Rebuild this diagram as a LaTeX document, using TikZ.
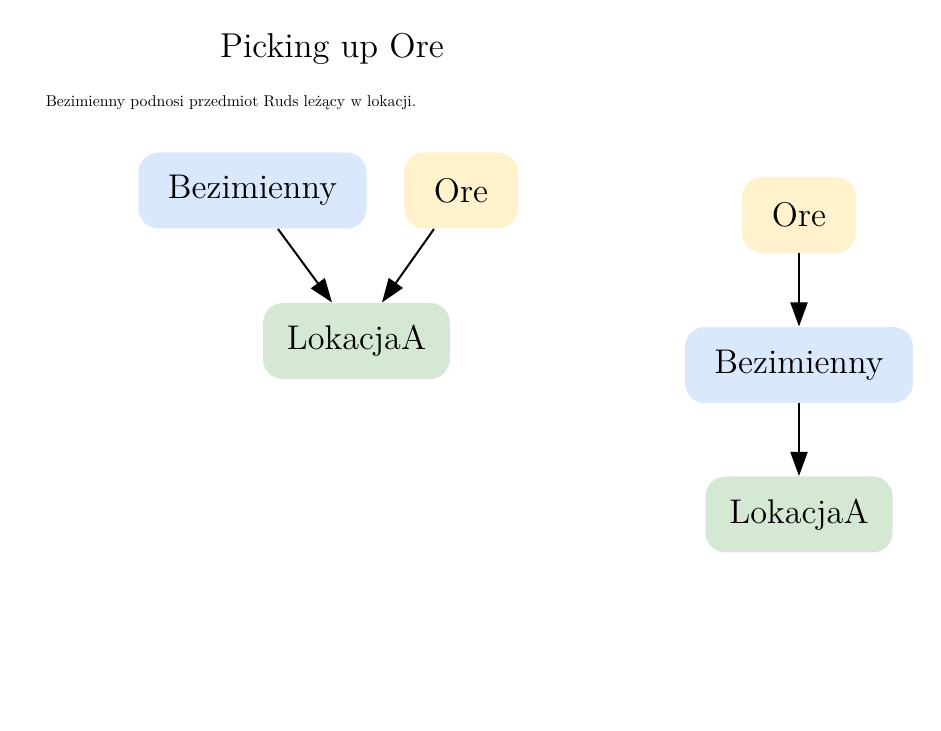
\documentclass[tikz,border=0pt]{standalone}
\usepackage{tikz}
\usetikzlibrary{arrows.meta,calc}
\definecolor{actorblue}{HTML}{DAE8FC}
\definecolor{itemyellow}{HTML}{FFF2CC}
\definecolor{placegreen}{HTML}{D5E8D4}
\tikzset{
  entity/.style={rounded corners=8pt, inner sep=0pt, minimum height=30.4pt, font=\fontsize{13.7}{16}\selectfont},
  link/.style={-{Triangle[length=9.6pt,width=6.8pt]}, line width=0.8pt}
}

\begin{document}
\begin{tikzpicture}[x=0.4pt,y=-0.4pt]
\useasboundingbox (0,0) rectangle (941,731);

% Title and description
\node (title) at (332,49) {\fontsize{13.8}{16}\selectfont Picking up Ore};
\node[scale=0.63, transform shape] (subtitle) at (231,103) {\fontsize{10}{12}\selectfont Bezimienny podnosi przedmiot Ruds leżący w lokacji.};

% Before: Bezimienny and Ore both in LokacjaA
\node[entity, fill=actorblue, minimum width=91.2pt] (bez1) at (252.5,190.5) {Bezimienny};
\node[entity, fill=itemyellow, minimum width=45.6pt] (ore1) at (461,190.5) {Ore};
\node[entity, fill=placegreen, minimum width=74.8pt] (lok1) at (356.5,341) {LokacjaA};
\draw[link] ($(bez1.south)+(25.5,0)$) -- ($(lok1.north)+(-24.5,0)$);
\draw[link] ($(ore1.south)+(-27,0)$) -- ($(lok1.north)+(25.5,0)$);

% After: Ore carried by Bezimienny
\node[entity, fill=itemyellow, minimum width=45.6pt] (ore2) at (799,215) {Ore};
\node[entity, fill=actorblue, minimum width=91.2pt] (bez2) at (799,365) {Bezimienny};
\node[entity, fill=placegreen, minimum width=74.8pt] (lok2) at (799,514.5) {LokacjaA};
\draw[link] (ore2) -- (bez2);
\draw[link] (bez2) -- (lok2);
\end{tikzpicture}
\end{document}
